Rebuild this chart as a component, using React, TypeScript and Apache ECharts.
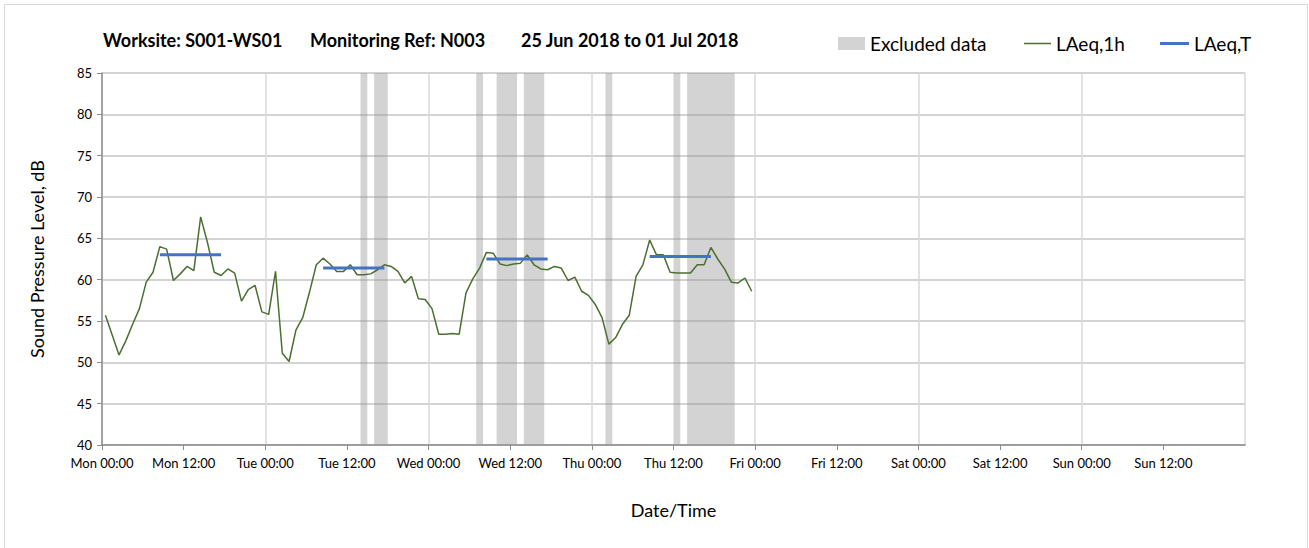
import React, { useEffect, useRef } from "react";
import * as echarts from "echarts";

// Hourly LAeq,1h values, Mon 00:00 onwards (plotted at the centre of each hour)
const laeq1h: number[] = [
  55.7, 53.3, 50.9, 52.6, 54.6, 56.5, 59.7, 60.9, 64.0, 63.7, 59.9, 60.7,
  61.6, 61.1, 67.6, 64.5, 60.9, 60.5, 61.3, 60.8, 57.4, 58.8, 59.3, 56.1,
  55.8, 61.0, 51.1, 50.1, 53.9, 55.4, 58.5, 61.8, 62.6, 61.9, 61.0, 61.0,
  61.8, 60.6, 60.6, 60.7, 61.2, 61.8, 61.6, 61.0, 59.6, 60.4, 57.7, 57.6,
  56.5, 53.4, 53.4, 53.5, 53.4, 58.4, 60.1, 61.4, 63.3, 63.2, 61.9, 61.7,
  61.9, 62.0, 63.0, 61.8, 61.3, 61.2, 61.6, 61.4, 59.9, 60.3, 58.6, 58.1,
  57.0, 55.4, 52.2, 53.0, 54.6, 55.7, 60.4, 61.8, 64.8, 63.0, 63.0, 60.9,
  60.8, 60.8, 60.8, 61.8, 61.8, 63.9, 62.5, 61.3, 59.7, 59.6, 60.2, 58.6,
];

// LAeq,T daytime periods (hour index of first and last hour) and values
const periodFirstHour: number[] = [8, 32, 56, 80];
const periodLastHour: number[] = [17, 41, 65, 89];
const laeqT: number[] = [63.0, 61.4, 62.5, 62.8];

// Excluded data periods, in hours from Mon 00:00
const excludedStart: number[] = [38, 40, 55, 58, 62, 74, 84, 86];
const excludedEnd: number[] = [39, 42, 56, 61, 65, 75, 85, 93];

const dayNames: string[] = ["Mon", "Tue", "Wed", "Thu", "Fri", "Sat", "Sun"];
const yTicks = { min: 40, max: 85, step: 5 };
const xTicks = { min: 0, max: 168, step: 12, gridStep: 24 };

const titleParts: string[] = [
  "Worksite: S001-WS01",
  "Monitoring Ref: N003",
  "25 Jun 2018 to 01 Jul 2018",
];

const FONT = "Lato, 'Open Sans', sans-serif";
const GREEN = "#4b6f31";
const BLUE = "#4472c4";

export default function App() {
  const ref = useRef<HTMLDivElement>(null);

  useEffect(() => {
    if (!ref.current) return;
    const chart = echarts.init(ref.current, null, { renderer: "svg" });

    const tSeries = laeqT.map((v, i) => ({
      name: "LAeq,T",
      type: "line",
      symbol: "none",
      z: 4,
      lineStyle: { color: BLUE, width: 3 },
      itemStyle: { color: BLUE },
      data: [
        [periodFirstHour[i] + 0.5, v],
        [periodLastHour[i] + 0.5, v],
      ],
    }));

    const legendText = { fontFamily: FONT, fontSize: 19, color: "#000" };

    const option: any = {
      animation: false,
      textStyle: { fontFamily: FONT },
      graphic: [
        {
          type: "rect",
          shape: { x: 4.5, y: 4.5, width: 1303, height: 560 },
          style: { fill: "none", stroke: "#d9d9d9", lineWidth: 1 },
          silent: true,
        },
      ],
      title: titleParts.map((t, i) => ({
        text: t,
        left: [103, 310, 521][i],
        top: 31,
        padding: 0,
        textStyle: {
          fontFamily: FONT,
          fontSize: 18,
          fontWeight: "bold",
          color: "#000",
        },
      })),
      legend: [
        {
          data: [{ name: "Excluded data", icon: "rect" }],
          left: 838,
          itemWidth: 27,
          itemHeight: 13,
        },
        {
          data: [{ name: "LAeq,1h", icon: "rect" }],
          left: 1024,
          itemWidth: 27,
          itemHeight: 1.5,
        },
        {
          data: [{ name: "LAeq,T", icon: "rect" }],
          left: 1160,
          itemWidth: 29,
          itemHeight: 3,
        },
      ].map((l) => ({
        ...l,
        top: 34,
        padding: 0,
        textStyle: legendText,
      })),
      grid: { left: 102, right: 64, top: 73, bottom: 103 },
      xAxis: [
        {
          type: "value",
          min: xTicks.min,
          max: xTicks.max,
          interval: xTicks.step,
          name: "Date/Time",
          nameLocation: "middle",
          nameGap: 56,
          nameTextStyle: { fontFamily: FONT, fontSize: 18, color: "#000" },
          axisLine: { lineStyle: { color: "#8c8c8c", width: 1.5 } },
          axisTick: { show: true, length: 5, lineStyle: { color: "#8c8c8c" } },
          splitLine: { show: false },
          axisLabel: {
            fontFamily: FONT,
            fontSize: 13,
            color: "#000",
            margin: 11,
            showMaxLabel: false,
            formatter: (v: number) => {
              if (v >= xTicks.max) return "";
              const d = Math.floor(v / 24);
              const h = v % 24;
              return `${dayNames[d]} ${h === 0 ? "00:00" : "12:00"}`;
            },
          },
        },
        {
          type: "value",
          position: "bottom",
          min: xTicks.min,
          max: xTicks.max,
          interval: xTicks.gridStep,
          axisLine: { show: false },
          axisTick: { show: false },
          axisLabel: { show: false },
          splitLine: { show: true, lineStyle: { color: "#d9d9d9", width: 1.5 } },
        },
      ],
      yAxis: {
        type: "value",
        min: yTicks.min,
        max: yTicks.max,
        interval: yTicks.step,
        name: "Sound Pressure Level, dB",
        nameLocation: "middle",
        nameGap: 56,
        nameTextStyle: { fontFamily: FONT, fontSize: 18, color: "#000" },
        axisLine: { show: true, lineStyle: { color: "#8c8c8c", width: 1.5 } },
        axisTick: { show: true, length: 5, lineStyle: { color: "#8c8c8c" } },
        splitLine: { show: true, lineStyle: { color: "#c4c4c4", width: 1.5 } },
        axisLabel: { fontFamily: FONT, fontSize: 13, color: "#000", margin: 10 },
      },
      series: [
        {
          name: "Excluded data",
          type: "custom",
          z: 1,
          itemStyle: { color: "#d3d3d3" },
          encode: { x: [0, 1] },
          data: excludedStart.map((s, i) => [s, excludedEnd[i]]),
          renderItem: (params: any, api: any) => {
            const x0 = api.coord([api.value(0), yTicks.min])[0];
            const x1 = api.coord([api.value(1), yTicks.min])[0];
            const cs = params.coordSys;
            return {
              type: "rect",
              shape: { x: x0, y: cs.y, width: x1 - x0, height: cs.height },
              style: { fill: "rgba(150,150,150,0.42)" },
            };
          },
        },
        {
          name: "LAeq,1h",
          type: "line",
          symbol: "none",
          z: 3,
          lineStyle: { color: GREEN, width: 1.5 },
          itemStyle: { color: GREEN },
          data: laeq1h.map((v, i) => [i + 0.5, v]),
        },
        ...tSeries,
      ],
    };

    chart.setOption(option);
    return () => chart.dispose();
  }, []);

  return (
    <div
      ref={ref}
      style={{ position: "fixed", left: 0, top: 0, width: 1309, height: 548, background: "#fff" }}
    />
  );
}
